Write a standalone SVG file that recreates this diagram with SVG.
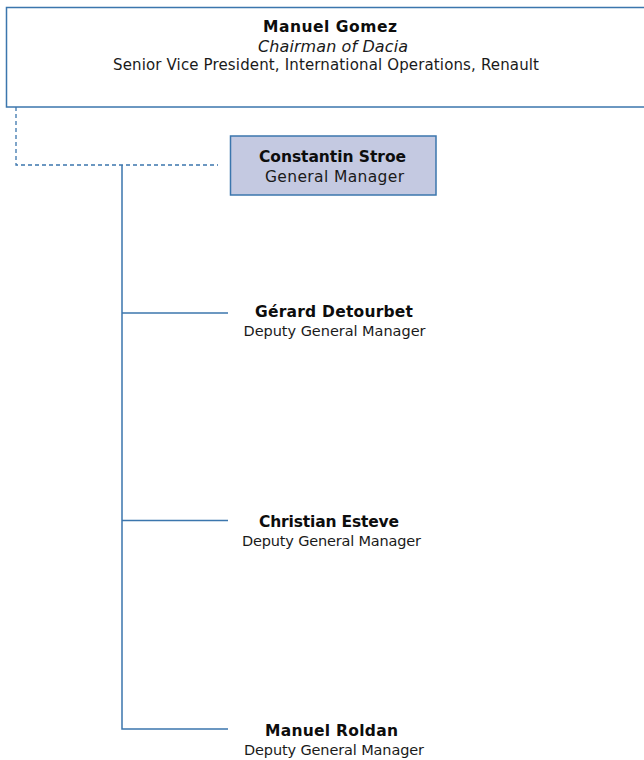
<svg xmlns="http://www.w3.org/2000/svg" width="644" height="760" viewBox="0 0 644 760">
  <style>
    .box { fill: #ffffff; stroke: #3b76ad; stroke-width: 1.5; }
    .gm { fill: #c4c9e1; stroke: #3b76ad; stroke-width: 1.5; }
    .link { fill: none; stroke: #3b76ad; stroke-width: 1.5; }
    .dash { fill: none; stroke: #3b76ad; stroke-width: 1.3; stroke-dasharray: 4 3; }
    text { font-family: "DejaVu Sans", "Liberation Sans", sans-serif; font-size: 14.5px; fill: #1a1a1a; text-anchor: middle; }
    .name { font-weight: bold; font-size: 15.5px; fill: #0d0d0d; }
    .it { font-style: italic; font-size: 16px; }
    .wide { font-size: 15.5px; }
  </style>

  <!-- connectors -->
  <g id="connectors">
    <polyline class="dash" points="16,107 16,165 218,165"/>
    <polyline class="link" points="122,165 122,729 228,729"/>
    <line class="link" x1="122" y1="313" x2="228" y2="313"/>
    <line class="link" x1="122" y1="520.5" x2="228" y2="520.5"/>
  </g>

  <!-- chairman -->
  <g id="node-gomez">
    <rect class="box" x="6.5" y="7.5" width="650" height="99.5"/>
    <text x="330" y="32" class="name" textLength="134">Manuel Gomez</text>
    <text x="333" y="51.5" class="it" textLength="150">Chairman of Dacia</text>
    <text x="326" y="70" style="font-size:15px" textLength="426">Senior Vice President, International Operations, Renault</text>
  </g>

  <!-- general manager -->
  <g id="node-stroe">
    <rect class="gm" x="230.5" y="136" width="205.5" height="59"/>
    <text x="332.5" y="162" class="name" textLength="147">Constantin Stroe</text>
    <text x="334.5" y="182" class="wide" textLength="139">General Manager</text>
  </g>

  <!-- deputies -->
  <g id="node-detourbet">
    <text x="334" y="317" class="name" textLength="158">Gérard Detourbet</text>
    <text x="334.5" y="335.5" textLength="182">Deputy General Manager</text>
  </g>

  <g id="node-esteve">
    <text x="329" y="526.5" class="name" textLength="140">Christian Esteve</text>
    <text x="331.5" y="545.5" textLength="179">Deputy General Manager</text>
  </g>

  <g id="node-roldan">
    <text x="331.5" y="736" class="name" textLength="133">Manuel Roldan</text>
    <text x="334" y="755" textLength="180">Deputy General Manager</text>
  </g>
</svg>
